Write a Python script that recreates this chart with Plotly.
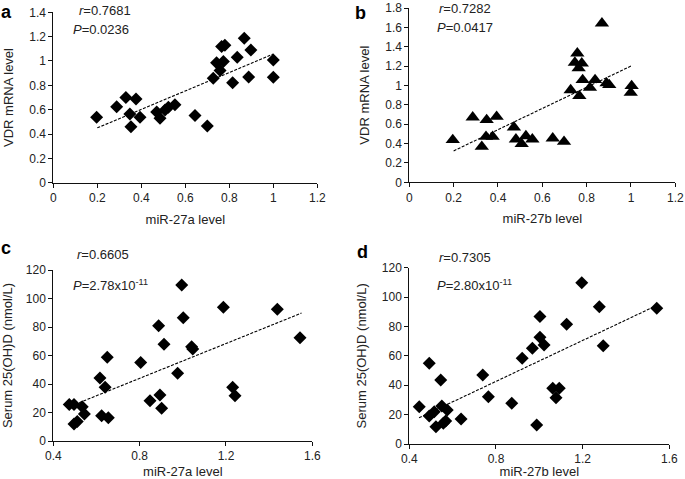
import numpy as np
import plotly.graph_objects as go

W, H = 685, 479

# ---- Panel a: miR-27a vs VDR mRNA ----
a_x = [0.197, 0.288, 0.330, 0.376, 0.348, 0.394, 0.353, 0.470, 0.485, 0.508, 0.523, 0.553,
       0.644, 0.700, 0.727, 0.742, 0.758, 0.773, 0.765, 0.780, 0.815, 0.836, 0.868, 0.888,
       0.898, 1.000, 1.000]
a_y = [0.537, 0.625, 0.700, 0.688, 0.564, 0.537, 0.460, 0.580, 0.529, 0.597, 0.619, 0.641,
       0.553, 0.466, 0.858, 0.986, 0.921, 0.995, 1.118, 1.130, 0.822, 1.030, 1.186, 0.868,
       1.090, 1.008, 0.866]

# ---- Panel b: miR-27b vs VDR mRNA ----
b_x = [0.196, 0.286, 0.349, 0.394, 0.346, 0.376, 0.327, 0.472, 0.481, 0.526, 0.507, 0.555,
       0.647, 0.698, 0.869, 0.758, 0.747, 0.778, 0.764, 0.782, 0.838, 0.815, 0.728, 0.767,
       0.890, 0.902, 1.003, 0.999]
b_y = [0.437, 0.671, 0.644, 0.678, 0.471, 0.471, 0.368, 0.568, 0.444, 0.478, 0.396, 0.444,
       0.454, 0.419, 1.642, 1.332, 1.236, 1.229, 1.178, 1.057, 1.057, 0.977, 0.953, 0.892,
       1.023, 1.005, 0.995, 0.926]

# ---- Panel c: miR-27a vs serum 25(OH)D ----
c_x = [0.474, 0.496, 0.534, 0.544, 0.496, 0.511, 0.616, 0.640, 0.650, 0.624, 0.655, 0.805,
       0.848, 0.894, 0.902, 0.888, 0.913, 0.976, 0.995, 1.002, 1.041, 1.046, 1.188, 1.438,
       1.543, 1.231, 1.242]
c_y = [25.7, 25.7, 24.1, 18.9, 11.9, 13.6, 44.2, 37.7, 58.7, 17.8, 16.4, 55.0,
       28.3, 32.3, 22.9, 80.9, 67.9, 47.5, 109.5, 86.5, 66.2, 64.6, 93.8, 92.4,
       72.5, 37.7, 31.8]

# ---- Panel d: miR-27b vs serum 25(OH)D ----
d_x = [0.446, 0.492, 0.492, 0.515, 0.523, 0.545, 0.550, 0.575, 0.557, 0.568, 0.639, 0.739,
       0.765, 0.873, 0.921, 0.968, 0.988, 1.003, 1.003, 1.022, 1.196, 1.277, 1.126, 1.295,
       1.542, 1.062, 1.092, 1.077]
d_y = [25.4, 54.9, 19.1, 22.0, 11.8, 43.6, 25.9, 23.1, 14.1, 15.7, 17.0, 47.0,
       32.2, 27.7, 58.3, 65.1, 12.9, 86.7, 72.6, 67.4, 109.8, 93.5, 81.5, 66.9,
       92.4, 37.9, 37.9, 31.5]

# x-extent of each dashed trend line (as drawn in the reference)
trend_ranges = {"a": [0.2, 1.0], "b": [0.2, 1.0], "c": [0.52, 1.55], "d": [0.445, 1.55]}

panel_labels = ["a", "b", "c", "d"]
r_texts = ["0.7681", "0.7282", "0.6605", "0.7305"]
p_texts = ["0.0236", "0.0417", "2.78x10<sup>-11</sup>", "2.80x10<sup>-11</sup>"]
x_titles = ["miR-27a level", "miR-27b level", "miR-27a level", "miR-27b level"]
y_titles = ["VDR mRNA level", "VDR mRNA level", "Serum 25(OH)D (nmol/L)", "Serum 25(OH)D (nmol/L)"]

FONT = "Liberation Sans, Arial, sans-serif"
TXT = "#222222"

fig = go.Figure()

# pixel geometry of plot areas: (left, right, top, bottom)
boxes = {
    "a": (53.3, 317.3, 12.3, 182.7),
    "b": (409.3, 675.3, 8.0, 182.3),
    "c": (53.3, 312.3, 270.0, 441.0),
    "d": (409.3, 669.3, 267.7, 444.0),
}
xranges = {"a": [0, 1.2], "b": [0, 1.2], "c": [0.4, 1.6], "d": [0.4, 1.6]}
yranges = {"a": [0, 1.4], "b": [0, 1.8], "c": [0, 120], "d": [0, 120]}
xdtick = {"a": 0.2, "b": 0.2, "c": 0.4, "d": 0.4}
ydtick = {"a": 0.2, "b": 0.2, "c": 20, "d": 20}
symbols = {"a": "diamond", "b": "triangle-up", "c": "diamond", "d": "diamond"}
msize = {"a": 10, "b": 12.5, "c": 10, "d": 10}
data = {"a": (a_x, a_y), "b": (b_x, b_y), "c": (c_x, c_y), "d": (d_x, d_y)}

annotations = []
for i, key in enumerate(panel_labels):
    xs, ys = data[key]
    ax = "x" if i == 0 else f"x{i+1}"
    ay = "y" if i == 0 else f"y{i+1}"
    fig.add_trace(go.Scatter(x=xs, y=ys, mode="markers", xaxis=ax, yaxis=ay,
                             marker=dict(symbol=symbols[key], size=msize[key], color="black",
                                         line=dict(width=0)),
                             showlegend=False, cliponaxis=False))
    slope, inter = np.polyfit(xs, ys, 1)
    tx = np.array(trend_ranges[key])
    fig.add_trace(go.Scatter(x=tx, y=slope * tx + inter, mode="lines", xaxis=ax, yaxis=ay,
                             line=dict(color="black", width=1.1, dash="3px,1.5px"),
                             showlegend=False))
    l, r, t, b = boxes[key]
    xa = "xaxis" if i == 0 else f"xaxis{i+1}"
    ya = "yaxis" if i == 0 else f"yaxis{i+1}"
    common = dict(showgrid=False, zeroline=False, showline=True, linecolor="#111",
                  linewidth=1, ticks="outside", ticklen=4, tickcolor="#111", tickwidth=1,
                  automargin=False,
                  tickfont=dict(family=FONT, size=12, color=TXT))
    fig.layout[xa] = dict(domain=[l / W, r / W], range=xranges[key], dtick=xdtick[key],
                          tick0=xranges[key][0], anchor=ay,
                          title=dict(text=x_titles[i],
                                     font=dict(family=FONT, size=13, color=TXT), standoff=10),
                          **common)
    fig.layout[ya] = dict(domain=[1 - b / H, 1 - t / H], range=yranges[key], dtick=ydtick[key],
                          tick0=0, anchor=ax,
                          title=dict(text=y_titles[i],
                                     font=dict(family=FONT, size=13, color=TXT), standoff=12),
                          **common)

# panel letters (top-anchored just below the top edge)
letter_pos = {"a": (6.5, 0), "b": (361, 1), "c": (6, 236), "d": (362, 240)}
for key, (px, py) in letter_pos.items():
    annotations.append(dict(x=px / W, y=1 - py / H, xref="paper", yref="paper",
                            text=f"<b>{key}</b>", showarrow=False, xanchor="center",
                            yanchor="top", font=dict(family=FONT, size=18, color="black")))

# r and P annotations
r_pos = {"a": (77, 10), "b": (437, 8.5), "c": (75, 255), "d": (437, 257)}
p_pos = {"a": (71, 30), "b": (435, 28), "c": (71, 285), "d": (435, 285)}
for i, key in enumerate(panel_labels):
    rx, ry = r_pos[key]
    px, py = p_pos[key]
    annotations.append(dict(x=rx / W, y=1 - ry / H, xref="paper", yref="paper",
                            text=f"<i>r</i>={r_texts[i]}", showarrow=False, xanchor="left",
                            yanchor="middle", font=dict(family=FONT, size=13, color=TXT)))
    annotations.append(dict(x=px / W, y=1 - py / H, xref="paper", yref="paper",
                            text=f"<i>P</i>={p_texts[i]}", showarrow=False, xanchor="left",
                            yanchor="middle", font=dict(family=FONT, size=13, color=TXT)))

fig.update_layout(width=W, height=H, margin=dict(l=0, r=0, t=0, b=0, pad=0),
                  paper_bgcolor="white", plot_bgcolor="white",
                  annotations=annotations, font=dict(family=FONT))

fig.write_html("out.html", config={"displayModeBar": False},
               post_script="document.body.style.margin='0';")
